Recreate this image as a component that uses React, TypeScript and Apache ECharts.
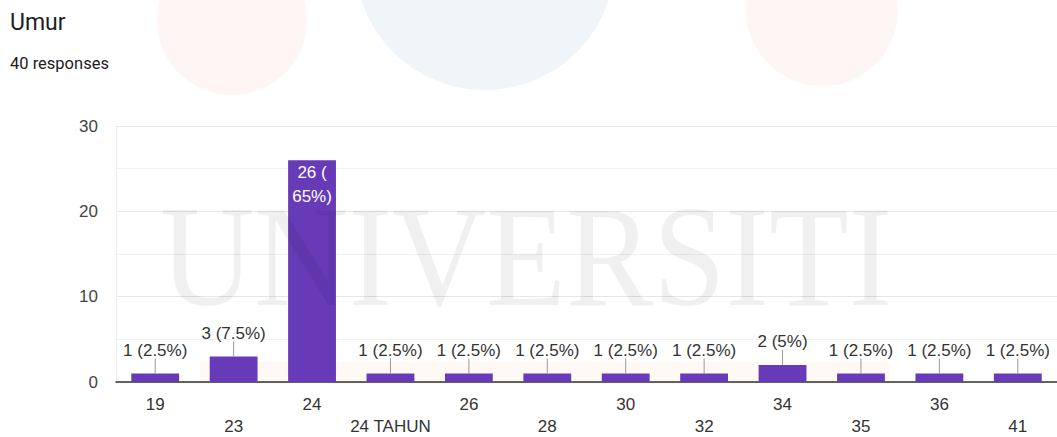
import React, { useEffect, useRef } from "react";
import * as echarts from "echarts";

const categories = ["19", "23", "24", "24 TAHUN", "26", "28", "30", "32", "34", "35", "36", "41"];
const counts = [1, 3, 26, 1, 1, 1, 1, 1, 2, 1, 1, 1];
const totalResponses = 40;
const yTicks = { min: 0, max: 30, interval: 10 };

export default function App() {
  const ref = useRef<HTMLDivElement>(null);
  useEffect(() => {
    if (!ref.current) return;
    const chart = echarts.init(ref.current, null, { renderer: "svg" });
    const font = "Roboto, Arial, sans-serif";
    const labelFont = "'Liberation Sans', Arial, sans-serif";
    const pct = (v: number) => {
      const p = (v / totalResponses) * 100;
      return `${v} (${Number.isInteger(p) ? p : p.toFixed(1)}%)`;
    };
    chart.setOption({
      animation: false,
      backgroundColor: "#ffffff",
      graphic: [
        { type: "circle", shape: { cx: 232, cy: 20, r: 75 }, style: { fill: "rgba(240,120,120,0.07)" }, z: -10, silent: true },
        { type: "circle", shape: { cx: 485, cy: -40, r: 130 }, style: { fill: "rgba(120,160,200,0.11)" }, z: -10, silent: true },
        { type: "circle", shape: { cx: 822, cy: 10, r: 76 }, style: { fill: "rgba(240,120,120,0.07)" }, z: -10, silent: true },
        { type: "rect", shape: { x: 200, y: 362, width: 690, height: 22 }, style: { fill: "rgba(250,180,130,0.08)" }, z: -10, silent: true },
        {
          type: "text",
          x: 10,
          y: 22,
          style: { text: "Umur", font: `400 23px ${font}`, fill: "#202124", verticalAlign: "middle" },
        },
        {
          type: "text",
          x: 10,
          y: 63,
          style: { text: "40 responses", font: `400 16.5px ${font}`, fill: "#202124", verticalAlign: "middle" },
        },
        {
          type: "text",
          x: 160,
          y: 256,
          scaleX: 0.9,
          style: {
            text: "UNIVERSITI",
            font: "145px 'Liberation Serif', serif",
            fill: "rgba(0,0,0,0.06)",
            verticalAlign: "middle",
          },
          z: 100,
          silent: true,
        },
      ],
      grid: { left: 116, right: -3, top: 126, bottom: 54, containLabel: false },
      xAxis: {
        type: "category",
        data: categories,
        axisLine: { show: true, lineStyle: { color: "#333333", width: 1.5 } },
        axisTick: { show: false },
        axisLabel: {
          interval: 0,
          fontFamily: labelFont,
          fontSize: 17,
          color: "#333333",
          lineHeight: 22,
          margin: 11,
          formatter: (v: string) => {
            const i = categories.indexOf(v);
            return i % 2 === 1 ? "\n" + v : v;
          },
          verticalAlign: "top",
        },
      },
      yAxis: {
        type: "value",
        min: yTicks.min,
        max: yTicks.max,
        interval: yTicks.interval,
        axisLine: { show: true, lineStyle: { color: "#ececec" } },
        axisTick: { show: false },
        axisLabel: { fontFamily: labelFont, fontSize: 17, color: "#444444", margin: 18 },
        splitLine: { lineStyle: { color: "#e6e6e6" } },
        minorTick: { show: false, splitNumber: 2 },
        minorSplitLine: { show: true, lineStyle: { color: "#f2f2f2" } },
      },
      series: [
        {
          type: "bar",
          data: counts,
          barCategoryGap: "39%",
          itemStyle: { color: "#673ab7" },
          z: 2,
        },
        {
          type: "custom",
          data: counts.map((v, i) => [i, v]),
          z: 5,
          renderItem: (params: any, api: any) => {
            const idx = api.value(0);
            const v = api.value(1);
            const p = api.coord([idx, v]);
            if (v >= 20) {
              const t = pct(v);
              const parts = t.split(" ");
              return {
                type: "text",
                x: p[0],
                y: p[1] + 24,
                style: {
                  text: parts[0] + " (\n" + parts[1].slice(1),
                  fill: "#ffffff",
                  font: `17px ${labelFont}`,
                  align: "center",
                  verticalAlign: "middle",
                  lineHeight: 24,
                },
              };
            }
            return {
              type: "group",
              children: [
                {
                  type: "line",
                  shape: { x1: p[0], y1: p[1], x2: p[0], y2: p[1] - 15 },
                  style: { stroke: "#999999", lineWidth: 1 },
                },
                {
                  type: "text",
                  x: p[0],
                  y: p[1] - 23,
                  style: {
                    text: pct(v),
                    fill: "#333333",
                    font: `17px ${labelFont}`,
                    align: "center",
                    verticalAlign: "middle",
                  },
                },
              ],
            };
          },
        },
      ],
    });
    return () => chart.dispose();
  }, []);
  return (
    <div
      ref={ref}
      style={{ position: "absolute", left: 0, top: 0, width: 1057, height: 437 }}
    />
  );
}
